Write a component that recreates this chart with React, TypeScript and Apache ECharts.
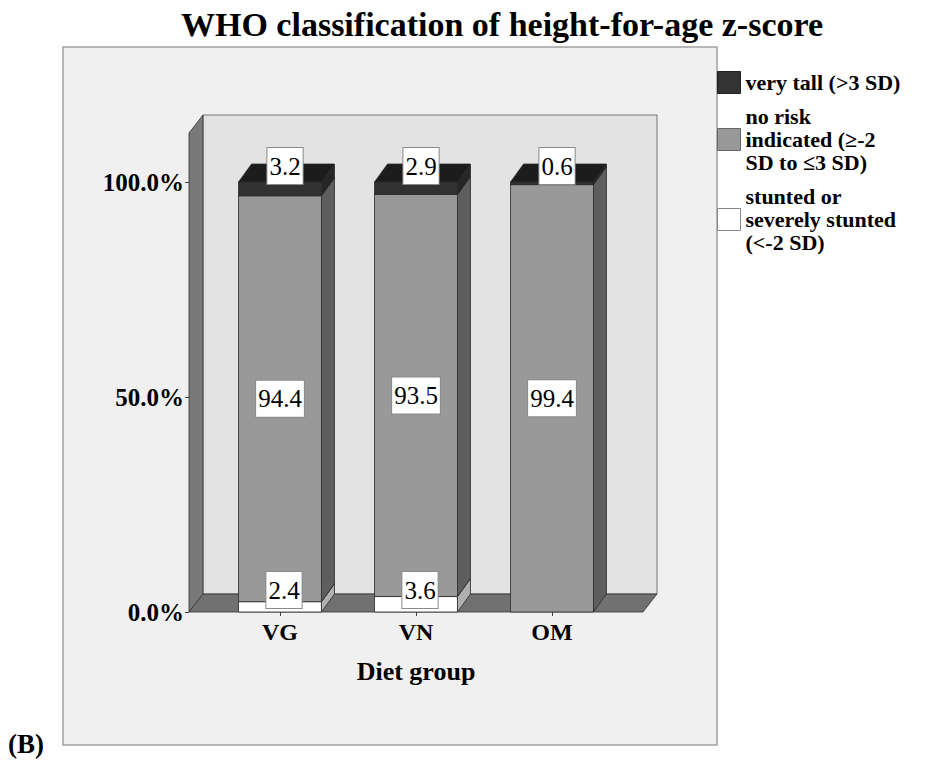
import React, { useEffect, useRef } from "react";
import * as echarts from "echarts";

const categories = ["VG", "VN", "OM"];
const stunted = [2.4, 3.6, 0];
const noRisk = [94.4, 93.5, 99.4];
const veryTall = [3.2, 2.9, 0.6];
const yTicks = [0, 50, 100];
const nameStunted = "stunted or\nseverely stunted\n(<-2 SD)";
const nameNoRisk = "no risk\nindicated (≥-2\nSD to ≤3 SD)";
const nameVeryTall = "very tall (>3 SD)";

const FONT = '"Liberation Serif", "Times New Roman", serif';
const DX = 13;
const DY = -18;
const WDX = 14;
const WDY = -18;
const EDGE = "#2a2a2a";

type Faces = { front: string; side: string; top: string };
const facesStunted: Faces = { front: "#ffffff", side: "#b0b0b0", top: "#e6e6e6" };
const facesNoRisk: Faces = { front: "#999999", side: "#5e5e5e", top: "#7c7c7c" };
const facesVeryTall: Faces = { front: "#323232", side: "#262626", top: "#1c1c1c" };

function makeRender(faces: Faces, pos: "bottom" | "mid" | "top") {
  return (params: any, api: any) => {
    const cat = api.value(0);
    const base = api.value(1);
    const val = api.value(2);
    if (!val) return { type: "group", children: [] };
    const p0 = api.coord([cat, base]);
    const p1 = api.coord([cat, base + val]);
    const w = api.size([1, 0])[0] * 0.61;
    const xc = p0[0];
    const xl = xc - w / 2;
    const xr = xc + w / 2;
    const yb = p0[1];
    const yt = p1[1];
    const h = yb - yt;
    let lx = xc;
    let ly = (yb + yt) / 2;
    if (h < 40) {
      if (pos === "bottom") {
        lx = xc + 4;
        ly = yb - 22;
      } else if (pos === "top") {
        lx = xc + 5;
        ly = yt - 16;
      }
    }
    return {
      type: "group",
      children: [
        {
          type: "polygon",
          shape: { points: [[xr, yb], [xr + DX, yb + DY], [xr + DX, yt + DY], [xr, yt]] },
          style: { fill: faces.side, stroke: EDGE, lineWidth: 0.8 },
        },
        {
          type: "polygon",
          shape: { points: [[xl, yt], [xr, yt], [xr + DX, yt + DY], [xl + DX, yt + DY]] },
          style: { fill: faces.top, stroke: EDGE, lineWidth: 0.8 },
        },
        {
          type: "rect",
          shape: { x: xl, y: yt, width: w, height: h },
          style: { fill: faces.front, stroke: EDGE, lineWidth: 0.8 },
        },
        {
          type: "text",
          z2: 100,
          style: {
            text: String(val),
            x: lx,
            y: ly,
            align: "center",
            verticalAlign: "middle",
            fontFamily: FONT,
            fontSize: 25,
            fill: "#000",
            backgroundColor: "#ffffff",
            borderColor: "#8a8a8a",
            borderWidth: 1,
            padding: [4, 2, 4, 2],
            lineHeight: 28,
          },
        },
      ],
    };
  };
}

function wallsRender(params: any, api: any) {
  const cs = params.coordSys;
  const fx0 = cs.x - 23;
  const fx1 = cs.x + cs.width + 23;
  const fyT = cs.y;
  const fyB = cs.y + cs.height;
  return {
    type: "group",
    children: [
      {
        type: "rect",
        shape: { x: fx0 + WDX, y: fyT + WDY, width: fx1 - fx0, height: fyB - fyT },
        style: { fill: "#e3e3e3", stroke: "#555", lineWidth: 0.8 },
      },
      {
        type: "polygon",
        shape: { points: [[fx0, fyT], [fx0 + WDX, fyT + WDY], [fx0 + WDX, fyB + WDY], [fx0, fyB]] },
        style: { fill: "#787878", stroke: "#333", lineWidth: 0.8 },
      },
      {
        type: "polygon",
        shape: { points: [[fx0, fyB], [fx1, fyB], [fx1 + WDX, fyB + WDY], [fx0 + WDX, fyB + WDY]] },
        style: { fill: "#717171", stroke: "#333", lineWidth: 0.8 },
      },
    ],
  };
}

export default function App() {
  const ref = useRef<HTMLDivElement>(null);
  useEffect(() => {
    document.body.style.margin = "0";
    const chart = echarts.init(ref.current!, null, { renderer: "svg" });
    const baseNo = stunted.map((v) => v);
    const baseTall = stunted.map((v, i) => v + noRisk[i]);
    chart.setOption({
      animation: false,
      backgroundColor: "#ffffff",
      title: {
        text: "WHO classification of height-for-age z-score",
        left: 497,
        textAlign: "center",
        top: 2,
        textStyle: { fontFamily: FONT, fontSize: 34, fontWeight: "bold", color: "#000" },
      },
      graphic: [
        {
          type: "rect",
          z: -10,
          shape: { x: 63, y: 47, width: 654, height: 698 },
          style: { fill: "#f0f0f0", stroke: "#a0a0a0", lineWidth: 1.5 },
        },
        {
          type: "text",
          left: 8,
          top: 730,
          style: { text: "(B)", fontFamily: FONT, fontSize: 27, fontWeight: "bold", fill: "#000" },
        },
      ],
      legend: {
        orient: "vertical",
        left: 717,
        top: 71,
        padding: 0,
        itemWidth: 23,
        itemHeight: 22,
        itemGap: 11,
        selectedMode: false,
        textStyle: { fontFamily: FONT, fontSize: 22, fontWeight: "bold", color: "#000", lineHeight: 23 },
        data: [
          { name: nameVeryTall, icon: "rect", itemStyle: { color: "#333333", borderColor: "#222", borderWidth: 1 } },
          { name: nameNoRisk, icon: "rect", itemStyle: { color: "#999999", borderColor: "#666", borderWidth: 1 } },
          { name: nameStunted, icon: "rect", itemStyle: { color: "#ffffff", borderColor: "#888", borderWidth: 1 } },
        ],
      },
      grid: { left: 212, right: 310, top: 133, bottom: 148 },
      xAxis: {
        type: "category",
        data: categories,
        axisLine: { show: false },
        axisTick: { show: true, alignWithLabel: true, length: 4, lineStyle: { color: "#444" } },
        axisLabel: { fontFamily: FONT, fontSize: 24, fontWeight: "bold", color: "#000", margin: 8 },
        name: "Diet group",
        nameLocation: "middle",
        nameGap: 46,
        nameTextStyle: { fontFamily: FONT, fontSize: 26, fontWeight: "bold", color: "#000" },
        splitLine: { show: false },
      },
      yAxis: {
        type: "value",
        min: 0,
        max: 111.4,
        interval: 50,
        offset: 23,
        axisLine: { show: false },
        axisTick: { show: true, length: 4, customValues: yTicks, lineStyle: { color: "#444" } },
        axisLabel: {
          customValues: yTicks,
          fontFamily: FONT,
          fontSize: 25,
          fontWeight: "bold",
          color: "#000",
          margin: 5,
          formatter: (v: number) => v.toFixed(1) + "%",
        },
        splitLine: { show: false },
      },
      series: [
        {
          type: "custom",
          name: "walls",
          z: 1,
          silent: true,
          renderItem: wallsRender,
          data: [[0, 0]],
          encode: { x: 0, y: 1 },
        },
        {
          type: "custom",
          name: nameStunted,
          z: 2,
          itemStyle: { color: "#ffffff", borderColor: "#888" },
          renderItem: makeRender(facesStunted, "bottom"),
          data: categories.map((c, i) => [i, 0, stunted[i]]),
          encode: { x: 0, y: 2 },
        },
        {
          type: "custom",
          name: nameNoRisk,
          z: 2,
          itemStyle: { color: "#999999", borderColor: "#666" },
          renderItem: makeRender(facesNoRisk, "mid"),
          data: categories.map((c, i) => [i, baseNo[i], noRisk[i]]),
          encode: { x: 0, y: 2 },
        },
        {
          type: "custom",
          name: nameVeryTall,
          z: 2,
          itemStyle: { color: "#333333", borderColor: "#222" },
          renderItem: makeRender(facesVeryTall, "top"),
          data: categories.map((c, i) => [i, baseTall[i], veryTall[i]]),
          encode: { x: 0, y: 2 },
        },
      ],
    });
    return () => chart.dispose();
  }, []);
  return <div ref={ref} style={{ width: 930, height: 760 }} />;
}
